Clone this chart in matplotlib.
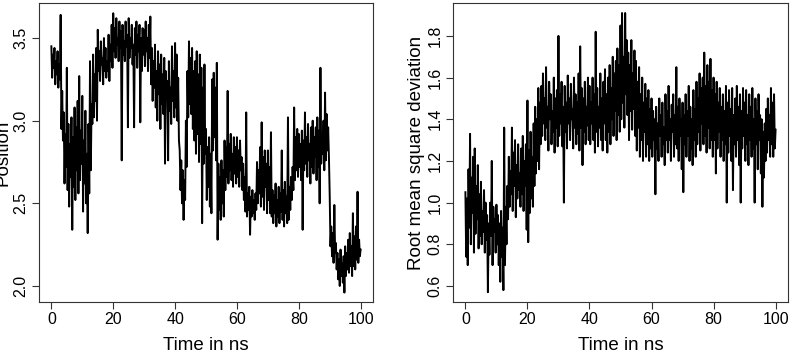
import numpy as np
import matplotlib
matplotlib.use("Agg")
import matplotlib.pyplot as plt

plt.rcParams['font.family'] = ['Liberation Sans', 'DejaVu Sans']

position = [
    3.45, 3.26, 3.40, 3.32, 3.44, 3.22, 3.36, 3.28, 3.42, 3.20, 3.34, 3.25, 3.64, 2.95, 3.18, 2.88, 3.05, 2.62, 2.92, 2.72,
    3.32, 2.58, 2.98, 2.48, 2.86, 2.66, 3.02, 2.34, 2.90, 2.60, 3.08, 2.52, 2.96, 2.70, 3.12, 2.56, 3.27, 2.64, 2.94, 2.74,
    3.15, 2.45, 2.88, 2.62, 3.06, 2.50, 2.80, 2.32, 2.98, 2.56, 3.36, 2.70, 3.10, 2.98, 3.40, 3.02, 3.28, 3.12, 3.44, 3.00,
    3.55, 3.30, 3.42, 3.24, 3.48, 3.34, 3.38, 3.22, 3.50, 3.30, 3.44, 3.26, 3.36, 3.30, 3.52, 3.24, 3.46, 3.36, 3.58, 3.32,
    3.65, 3.42, 3.56, 3.38, 3.62, 3.46, 3.50, 3.36, 3.60, 3.44, 3.54, 2.76, 3.58, 3.40, 3.48, 3.36, 3.60, 3.45, 3.52, 2.96,
    3.62, 3.38, 3.50, 3.44, 3.58, 3.34, 3.46, 2.96, 3.56, 3.40, 3.60, 3.32, 3.52, 3.42, 3.58, 2.99, 3.50, 3.30, 3.56, 3.40,
    3.55, 3.33, 3.60, 3.42, 3.50, 3.30, 3.58, 3.38, 3.63, 3.22, 3.44, 3.12, 3.36, 3.20, 3.46, 3.08, 3.30, 3.00, 3.42, 3.16,
    3.34, 2.95, 3.40, 3.10, 3.28, 3.04, 3.38, 2.74, 3.30, 3.14, 3.24, 2.76, 3.36, 3.06, 3.20, 2.98, 3.45, 3.12, 3.30, 3.02,
    3.47, 3.08, 3.40, 3.00, 3.26, 2.88, 2.82, 2.58, 2.76, 2.50, 2.70, 2.40, 2.64, 2.52, 3.00, 2.72, 3.30, 3.02, 3.48, 3.10,
    3.38, 3.04, 3.44, 2.95, 3.30, 2.88, 3.36, 2.80, 3.42, 2.92, 3.28, 2.75, 3.40, 2.86, 3.32, 2.38, 3.20, 2.74, 3.34, 2.80,
    2.95, 2.52, 2.84, 2.60, 2.90, 2.48, 2.80, 2.44, 3.25, 2.82, 3.29, 2.90, 3.20, 2.76, 3.35, 2.28, 2.74, 2.46, 2.66, 2.40,
    2.76, 2.50, 2.70, 2.42, 2.88, 2.58, 2.84, 2.66, 3.18, 2.62, 2.86, 2.70, 2.92, 2.64, 2.80, 2.60, 2.90, 2.68, 2.84, 2.62,
    2.90, 2.66, 2.82, 2.60, 2.88, 2.70, 2.78, 2.58, 2.74, 2.52, 2.66, 2.45, 3.05, 2.42, 2.56, 2.46, 2.60, 2.31, 2.54, 2.42,
    2.58, 2.44, 2.52, 2.40, 2.56, 2.46, 2.75, 2.50, 2.70, 2.56, 2.84, 2.48, 2.99, 2.54, 2.78, 2.46, 2.82, 2.60, 2.74, 2.44,
    2.82, 2.52, 2.72, 2.44, 2.93, 2.42, 2.58, 2.38, 2.55, 2.44, 2.62, 2.36, 2.52, 2.42, 2.60, 2.38, 2.56, 2.45, 2.82, 2.40,
    2.58, 2.36, 2.63, 2.44, 2.54, 2.38, 3.02, 2.40, 2.60, 2.46, 2.66, 2.52, 2.72, 2.58, 3.08, 2.64, 2.90, 2.70, 2.95, 2.66,
    2.92, 2.72, 2.86, 2.64, 2.94, 2.34, 2.88, 2.70, 3.05, 2.74, 2.90, 2.66, 2.98, 2.76, 2.86, 2.62, 2.96, 2.72, 3.00, 2.68,
    2.90, 2.78, 2.96, 2.64, 3.02, 2.72, 2.94, 2.50, 3.32, 2.74, 2.92, 2.80, 3.00, 2.70, 3.17, 2.76, 3.04, 2.82, 2.96, 2.78,
    2.55, 2.24, 2.36, 2.18, 2.32, 2.14, 2.49, 2.20, 2.26, 2.10, 2.20, 2.04, 2.16, 2.00, 2.22, 2.06, 2.14, 2.02, 2.18, 1.96,
    2.24, 2.06, 2.20, 2.10, 2.28, 2.08, 2.32, 2.12, 2.24, 2.06, 2.44, 2.12, 2.30, 2.10, 2.36, 2.16, 2.57, 2.14, 2.28, 2.18,
    2.22,
]

rmsd = [
    1.05, 0.74, 1.02, 0.70, 1.16, 0.88, 1.33, 0.80, 1.12, 0.95, 1.22, 0.76, 1.26, 0.85, 1.08, 0.92, 1.18, 0.78, 1.04, 0.84,
    1.10, 0.80, 0.96, 0.86, 1.06, 0.76, 1.00, 0.82, 0.94, 0.57, 0.90, 0.75, 1.00, 0.84, 1.20, 0.70, 0.98, 0.86, 0.92, 0.76,
    0.99, 0.80, 0.94, 0.70, 0.90, 0.62, 0.96, 0.74, 0.88, 0.58, 1.36, 0.70, 0.98, 0.80, 1.08, 0.92, 1.22, 0.98, 1.15, 1.04,
    1.36, 0.96, 1.24, 1.08, 1.30, 0.93, 1.18, 1.02, 1.28, 1.06, 1.14, 0.98, 1.26, 1.04, 1.32, 0.96, 1.20, 1.08, 1.28, 0.87,
    1.49, 0.81, 1.25, 0.95, 1.34, 1.02, 1.22, 0.98, 1.38, 1.08, 1.46, 1.14, 1.40, 1.20, 1.55, 1.16, 1.48, 1.28, 1.56, 1.32,
    1.62, 1.38, 1.50, 1.30, 1.65, 1.36, 1.46, 1.25, 1.58, 1.40, 1.52, 1.28, 1.44, 1.34, 1.60, 1.24, 1.50, 1.36, 1.54, 1.27,
    1.80, 1.32, 1.52, 1.38, 1.58, 1.27, 1.46, 1.00, 1.56, 1.34, 1.48, 1.26, 1.61, 1.38, 1.50, 1.30, 1.57, 1.40, 1.45, 1.26,
    1.60, 1.36, 1.52, 1.28, 1.48, 1.33, 1.62, 1.25, 1.75, 1.36, 1.55, 1.18, 1.50, 1.34, 1.58, 1.28, 1.46, 1.37, 1.60, 1.30,
    1.56, 1.28, 1.48, 1.38, 1.60, 1.30, 1.52, 1.24, 1.82, 1.34, 1.55, 1.27, 1.46, 1.36, 1.62, 1.30, 1.50, 1.25, 1.58, 1.38,
    1.64, 1.30, 1.52, 1.24, 1.60, 1.34, 1.66, 1.28, 1.55, 1.40, 1.70, 1.32, 1.62, 1.44, 1.68, 1.30, 1.74, 1.42, 1.66, 1.34,
    1.85, 1.40, 1.91, 1.48, 1.70, 1.36, 1.91, 1.52, 1.78, 1.42, 1.72, 1.30, 1.66, 1.44, 1.78, 1.35, 1.62, 1.45, 1.73, 1.32,
    1.68, 1.25, 1.58, 1.36, 1.65, 1.22, 1.52, 1.30, 1.60, 1.20, 1.48, 1.34, 1.57, 1.22, 1.50, 1.28, 1.54, 1.20, 1.45, 1.26,
    1.50, 1.22, 1.44, 1.30, 1.40, 1.04, 1.46, 1.26, 1.38, 1.20, 1.50, 1.32, 1.42, 1.22, 1.48, 1.28, 1.36, 1.18, 1.52, 1.30,
    1.44, 1.24, 1.56, 1.30, 1.40, 1.20, 1.47, 1.34, 1.52, 1.22, 1.42, 1.28, 1.65, 1.26, 1.46, 1.20, 1.50, 1.32, 1.40, 1.16,
    1.48, 1.05, 1.42, 1.28, 1.52, 1.22, 1.44, 1.32, 1.56, 1.20, 1.46, 1.26, 1.40, 1.18, 1.54, 1.30, 1.45, 1.22, 1.58, 1.28,
    1.50, 1.34, 1.62, 1.25, 1.55, 1.38, 1.60, 1.28, 1.72, 1.32, 1.56, 1.24, 1.66, 1.36, 1.58, 1.26, 1.69, 1.30, 1.54, 1.22,
    1.60, 1.30, 1.52, 1.14, 1.58, 1.26, 1.48, 1.34, 1.55, 1.22, 1.46, 1.30, 1.52, 1.20, 1.44, 1.28, 1.56, 1.00, 1.48, 1.24,
    1.54, 1.32, 1.45, 1.20, 1.55, 1.06, 1.42, 1.28, 1.50, 1.22, 1.56, 1.30, 1.46, 1.18, 1.52, 1.00, 1.44, 1.26, 1.55, 1.32,
    1.48, 1.20, 1.54, 1.28, 1.42, 1.18, 1.52, 1.30, 1.46, 1.22, 1.55, 1.26, 1.40, 1.00, 1.50, 1.28, 1.44, 1.16, 1.52, 1.30,
    1.42, 1.14, 1.40, 0.98, 1.34, 1.12, 1.38, 1.20, 1.45, 1.24, 1.50, 1.30, 1.42, 1.22, 1.55, 1.28, 1.48, 1.22, 1.52, 1.26,
    1.35,
]

# time axis (ns): samples span 0..100 ns
time_pos = np.linspace(0, 100, len(position))
time_rmsd = np.linspace(0, 100, len(rmsd))

xticks = [0, 20, 40, 60, 80, 100]
pos_ticks = [2.0, 2.5, 3.0, 3.5]
rmsd_ticks = [0.6, 0.8, 1.0, 1.2, 1.4, 1.6, 1.8]

W, H = 796, 356
fig = plt.figure(figsize=(W / 100, H / 100), dpi=100)
ax1 = fig.add_axes([39 / W, (H - 302) / H, 334 / W, 299 / H])
ax2 = fig.add_axes([453 / W, (H - 302) / H, 335 / W, 299 / H])

FS_TICK = 11.5
FS_LAB = 13.5

def style(ax, yticks, ylabel):
    ax.set_xticks(xticks)
    ax.set_xticklabels([str(t) for t in xticks], fontsize=FS_TICK)
    ax.set_yticks(yticks)
    ax.set_yticklabels([f"{t:.1f}" for t in yticks], fontsize=FS_TICK,
                       rotation=90, va='center')
    ax.tick_params(axis='both', direction='out', length=5, width=0.8, color='#333333')
    ax.tick_params(axis='x', pad=2.5)
    ax.tick_params(axis='y', pad=2.5)
    for s in ax.spines.values():
        s.set_linewidth(0.8)
        s.set_color('#333333')
    ax.set_xlabel("Time in ns", fontsize=FS_LAB, va='center')
    ax.xaxis.set_label_coords(0.5, -0.147)
    ax.set_ylabel(ylabel, fontsize=FS_LAB, va='center')
    ax.yaxis.set_label_coords(-0.109, 0.5)

ax1.plot(time_pos, position, color='black', lw=1.4)
ax1.set_xlim(-4, 104)
ax1.set_ylim(1.903, 3.712)
style(ax1, pos_ticks, "Position")

ax2.plot(time_rmsd, rmsd, color='black', lw=1.4)
ax2.set_xlim(-4, 104)
ax2.set_ylim(0.523, 1.958)
style(ax2, rmsd_ticks, "Root mean square deviation")

fig.savefig("out.png", dpi=100)
